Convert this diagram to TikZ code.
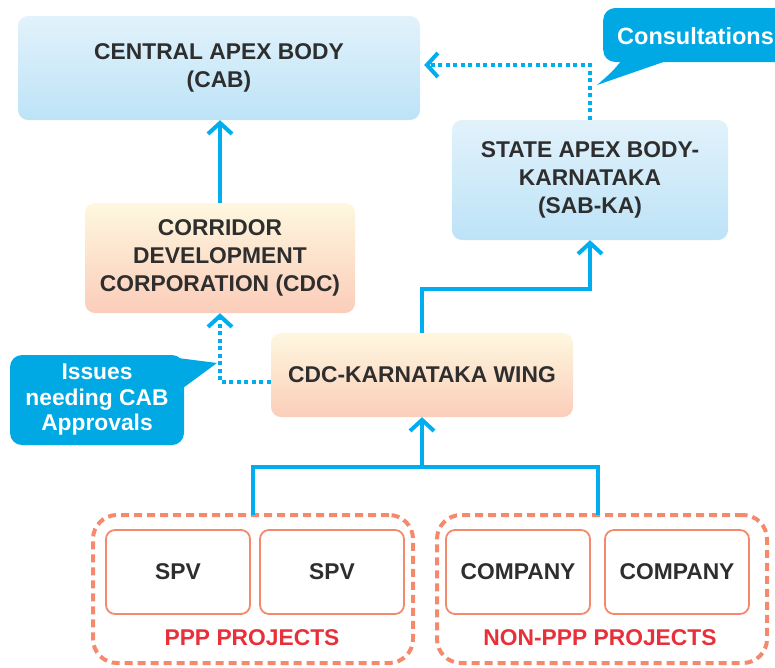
\documentclass[tikz,border=0pt]{standalone}
\usepackage{fontspec}
\setmainfont{Liberation Sans}
\usetikzlibrary{arrows.meta}
\definecolor{lineblue}{HTML}{00AEEF}
\definecolor{callblue}{HTML}{00A9E3}
\definecolor{txtdark}{HTML}{2E2E2E}
\definecolor{grporange}{HTML}{F4896B}
\definecolor{lblred}{HTML}{E8303A}
\definecolor{bluetop}{HTML}{E2F2FB}
\definecolor{bluebot}{HTML}{BDE3F7}
\definecolor{peachtop}{HTML}{FEF7DF}
\definecolor{peachbot}{HTML}{FBCDBA}
\tikzset{
  boxtext/.style={font=\fontsize{22.8}{28}\selectfont\bfseries, text=txtdark, align=center},
  bluebox/.style={boxtext, rounded corners=10pt, top color=bluetop, bottom color=bluebot, draw=none, inner sep=0pt},
  peachbox/.style={boxtext, rounded corners=10pt, top color=peachtop, bottom color=peachbot, draw=none, inner sep=0pt},
  unitbox/.style={boxtext, rounded corners=9pt, fill=white, draw=grporange, line width=1.8pt, minimum width=144pt, minimum height=84pt, inner sep=0pt},
  groupbox/.style={draw=grporange, line width=4pt, dash pattern=on 8pt off 5pt, rounded corners=24pt},
  grouplabel/.style={font=\fontsize{22.8}{28}\selectfont\bfseries, text=lblred},
  solidarrow/.style={draw=lineblue, line width=4pt, -{Straight Barb[length=11pt,width=24pt]}},
  solidline/.style={draw=lineblue, line width=4pt},
  dotarrow/.style={draw=lineblue, line width=4pt, dash pattern=on 4pt off 3.5pt, -{Straight Barb[length=11pt,width=24pt]}},
  calloutbox/.style={fill=callblue, rounded corners=12pt, text=white, font=\fontsize{22.8}{25.5}\selectfont\bfseries, align=center, inner sep=0pt}
}
\begin{document}
\begin{tikzpicture}[x=1pt,y=-1pt]
\useasboundingbox (0,0) rectangle (775,667);
\clip (0,0) rectangle (775,667);

% main boxes
\node[bluebox, minimum width=402pt, minimum height=104pt] (cab) at (219,68) {CENTRAL APEX BODY\\(CAB)};
\node[peachbox, minimum width=270pt, minimum height=110pt] (cdc) at (220,258) {CORRIDOR\\DEVELOPMENT\\CORPORATION (CDC)};
\node[bluebox, minimum width=276pt, minimum height=120pt] (sab) at (590,180) {STATE APEX BODY-\\KARNATAKA\\(SAB-KA)};
\node[peachbox, minimum width=302pt, minimum height=84pt] (wing) at (422,375) {CDC-KARNATAKA WING};

% groups
\node[groupbox, minimum width=320pt, minimum height=148pt] (ppp) at (253,589) {};
\node[groupbox, minimum width=330pt, minimum height=148pt] (nonppp) at (602,589) {};
\node[unitbox] (spva) at (178,572) {SPV};
\node[unitbox] (spvb) at (332,572) {SPV};
\node[unitbox] (coa) at (518,572) {COMPANY};
\node[unitbox] (cob) at (677,572) {COMPANY};
\node[grouplabel] (ppplbl) at (252,638) {PPP PROJECTS};
\node[grouplabel] (nonlbl) at (600,638) {NON-PPP PROJECTS};

% callouts
\fill[callblue] (622,60) .. controls (612,72) .. (597,85) -- (675,58) -- cycle;
\node[calloutbox, minimum width=190pt, minimum height=54pt, anchor=west] (cons) at (603,35) {};
\node[text=white, font=\fontsize{23.5}{25.5}\selectfont\bfseries, anchor=west, inner sep=0pt] (constxt) at (617,36) {Consultations};
\fill[callblue] (170,357) -- (217,363) -- (183,388) -- cycle;
\node[calloutbox, minimum width=174pt, minimum height=90pt] (issues) at (97,400) {Issues\\needing CAB\\Approvals};

% connectors
\draw[solidarrow] (cdc.north) -- (cdc.north |- cab.south);
\draw[solidarrow] (wing.north) -- ++(0,-44) -| (sab.south);
\draw[dotarrow, shorten >=4pt] (sab.north) |- ([yshift=3pt]cab.east);
\draw[dotarrow] ([yshift=-7pt]wing.west) -| (cdc.south);
\coordinate (bl) at (253,467);
\coordinate (br) at (598,467);
\draw[solidline] (253,515) -- (bl) -- (br) -- (598,515);
\draw[solidarrow] (wing.south |- bl) -- (wing.south);
\end{tikzpicture}
\end{document}
